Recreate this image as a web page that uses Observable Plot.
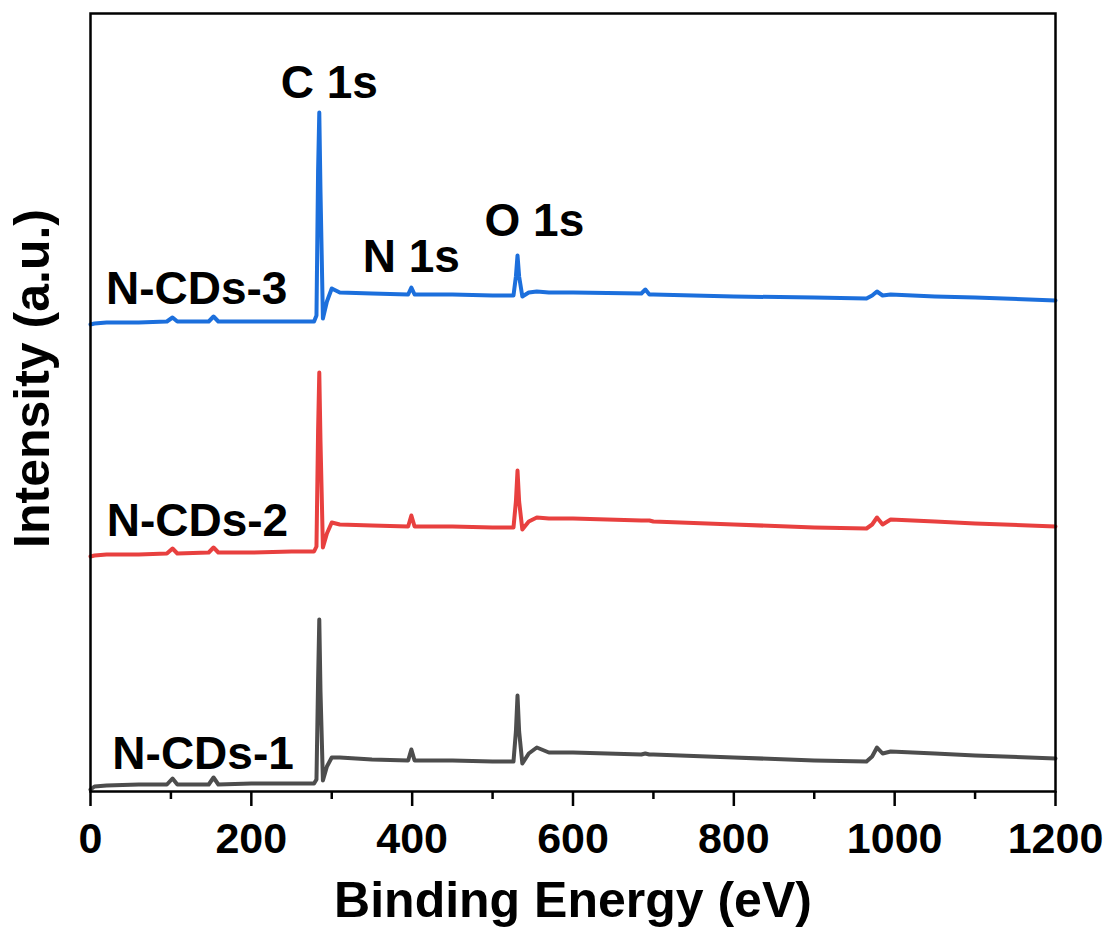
<!DOCTYPE html>
<html>
<head>
<meta charset="utf-8">
<script src="https://cdn.jsdelivr.net/npm/d3@7"></script>
<script src="https://cdn.jsdelivr.net/npm/@observablehq/plot@0.6"></script>
<style>
  html, body { margin: 0; padding: 0; background: #fff; }
</style>
</head>
<body>
<div id="chart"></div>
<script>
// Binding energy grid (eV)
const energy = [0, 5, 20, 60, 95, 102, 108, 147, 153, 159, 200, 250, 278, 281, 283, 284.5, 286, 289, 294, 300, 310, 350, 395, 399, 403, 450, 500, 526, 529, 531, 533, 537, 545, 555, 570, 600, 685, 690, 695, 700, 800, 900, 965, 972, 978, 985, 995, 1050, 1100, 1200];

// Intensities (a.u., offset-stacked as in the figure)
const cds1 = [2, 5, 6, 7, 7, 13, 7, 7, 14, 7, 8, 8, 8, 12, 110, 172, 100, 11, 25, 34, 34, 32, 31, 42, 31, 31, 30, 30, 60, 96, 60, 28, 38, 44, 39, 39, 37, 38, 37, 37, 34, 31, 30, 35, 44, 38, 40, 38, 36, 33];
const cds2 = [235, 236, 237, 237, 238, 243, 238, 239, 244, 239, 239, 240, 240, 245, 360, 419, 350, 244, 258, 269, 267, 266, 265, 276, 265, 265, 264, 264, 290, 321, 290, 262, 270, 274, 273, 273, 271, 271, 271, 270, 267, 264, 263, 267, 274, 267, 272, 270, 268, 265];
const cds3 = [467, 468, 469, 469, 470, 474, 470, 470, 475, 470, 470, 470, 470, 476, 620, 679, 600, 473, 490, 503, 499, 498, 497, 504, 497, 497, 496, 496, 515, 536, 515, 495, 499, 500, 499, 499, 498, 502, 497, 497, 495, 494, 493, 496, 500, 496, 497, 495, 494, 491];

const seriesNames = ["N-CDs-1", "N-CDs-2", "N-CDs-3"];
const seriesColors = ["#4d4d4d", "#e8403f", "#1c6fdc"];
const seriesLabelE = [140, 133, 132];
const seriesLabelI = [37, 270, 502];

const peakNames = ["C 1s", "N 1s", "O 1s"];
const peakLabelE = [297, 399, 552];
const peakLabelI = [708, 534, 570];

const majorTicks = [0, 200, 400, 600, 800, 1000, 1200];
const minorTicks = [100, 300, 500, 700, 900, 1100];

const seriesValues = [cds1, cds2, cds3];
const rows = [];
seriesNames.forEach((name, s) => {
  energy.forEach((e, i) => rows.push({series: name, energy: e, intensity: seriesValues[s][i]}));
});
const seriesLabels = seriesNames.map((n, i) => ({name: n, e: seriesLabelE[i], v: seriesLabelI[i]}));
const peakLabels = peakNames.map((n, i) => ({name: n, e: peakLabelE[i], v: peakLabelI[i]}));

const chart = Plot.plot({
  width: 1112,
  height: 938,
  marginLeft: 90,
  marginRight: 57,
  marginTop: 13,
  marginBottom: 147,
  style: {fontFamily: "'Liberation Sans', Arial, sans-serif", fontWeight: "bold", background: "white", color: "black"},
  x: {domain: [0, 1200]},
  y: {domain: [0, 778], axis: null},
  color: {domain: seriesNames, range: seriesColors},
  marks: [
    Plot.line(rows, {x: "energy", y: "intensity", z: "series", stroke: "series", strokeWidth: 4, strokeLinejoin: "round"}),
    Plot.axisX(majorTicks, {tickSize: 15, tickPadding: 16, strokeWidth: 2.5, fontSize: 43, fontWeight: "bold", tickFormat: d => String(d), label: null}),
    Plot.axisX(minorTicks, {tickSize: 8, strokeWidth: 2.5, tickFormat: () => "", label: null}),
    Plot.frame({stroke: "black", strokeWidth: 2.5}),
    Plot.text(seriesLabels, {x: "e", y: "v", text: "name", fontSize: 46, fontWeight: "bold", fill: "black"}),
    Plot.text(peakLabels, {x: "e", y: "v", text: "name", fontSize: 46, fontWeight: "bold", fill: "black"}),
    Plot.text(["Binding Energy (eV)"], {frameAnchor: "bottom", textAnchor: "middle", lineAnchor: "middle", dy: 109, fontSize: 50, fontWeight: "bold", fill: "black"}),
    Plot.text(["Intensity (a.u.)"], {frameAnchor: "left", textAnchor: "middle", lineAnchor: "middle", dx: -58, dy: -24, rotate: -90, fontSize: 50, fontWeight: "bold", fill: "black"})
  ]
});
document.getElementById("chart").appendChild(chart);
</script>
</body>
</html>
